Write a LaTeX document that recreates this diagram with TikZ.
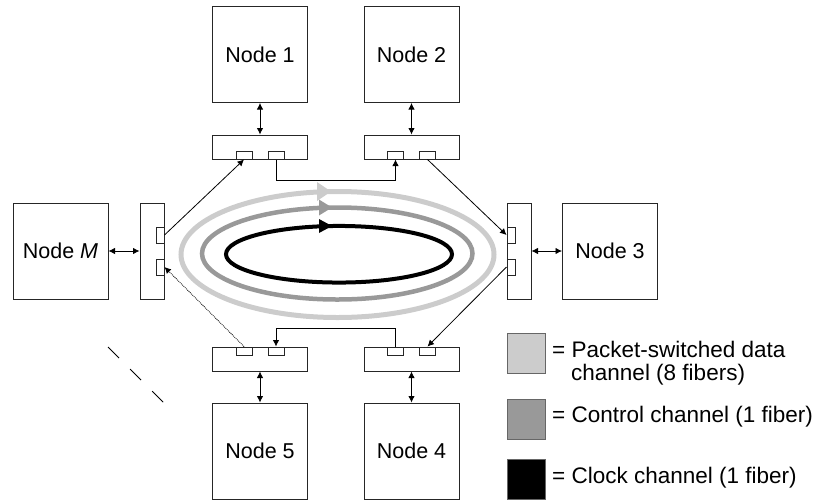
\documentclass[tikz,border=0pt]{standalone}
\usepackage{fontspec}
\setmainfont{Liberation Sans}
\usetikzlibrary{arrows.meta}
\definecolor{datagray}{HTML}{CCCCCC}
\definecolor{ctrlgray}{HTML}{999999}
\begin{document}
\begin{tikzpicture}[x=1pt, y=-1pt, font=\fontsize{21.5}{26}\selectfont, every node/.style={inner sep=0pt}, host/.style={draw=black!85, line width=1pt, minimum width=95pt, minimum height=96pt}, hcoupler/.style={draw=black!85, line width=1pt, minimum width=95pt, minimum height=24pt}, vcoupler/.style={draw=black!85, line width=1pt, minimum width=24pt, minimum height=96pt}, hport/.style={draw=black!85, line width=0.8pt, fill=white, minimum width=16pt, minimum height=8pt}, vport/.style={draw=black!85, line width=0.8pt, fill=white, minimum width=8pt, minimum height=16pt}, link/.style={line width=0.8pt, -{Latex[length=6.5pt,width=6.5pt]}}, dlink/.style={line width=0.8pt, {Latex[length=6.5pt,width=6.5pt]}-{Latex[length=6.5pt,width=6.5pt]}}, legendbox/.style={draw=black!60, line width=1pt, minimum width=38pt, minimum height=40pt}, legendtext/.style={anchor=base west, font=\fontsize{22.5}{27}\selectfont}]
\useasboundingbox (0,0) rectangle (819,499);

\draw[datagray, line width=5pt] (337.5,254.5) ellipse [x radius=156.5pt, y radius=63pt];
\draw[ctrlgray, line width=4.5pt] (337.25,253.5) ellipse [x radius=135.25pt, y radius=46pt];
\draw[black, line width=4pt] (339,254.25) ellipse [x radius=113pt, y radius=28.3pt];
\fill[datagray] (317,182) -- (331,191.5) -- (317,201) -- cycle;
\fill[ctrlgray] (319,199.5) -- (332,207.5) -- (319,215.5) -- cycle;
\fill[black] (319,219) -- (332,226) -- (319,233) -- cycle;

\node[host] (n1) at (260,54.5) {Node 1};
\node[host] (n2) at (411.5,54.5) {Node 2};
\node[host] (n3) at (610,251) {Node 3};
\node[host] (nM) at (60.5,251) {Node \textit{M}};
\node[host] (n4) at (411.5,451) {Node 4};
\node[host] (n5) at (260,451) {Node 5};

\node[hcoupler] (c1) at (260,147) {};
\node[hcoupler] (c2) at (411.5,147) {};
\node[hcoupler] (c4) at (411.5,359) {};
\node[hcoupler] (c5) at (260,359) {};
\node[vcoupler] (cM) at (152,251) {};
\node[vcoupler] (c3) at (519,251) {};

\node[hport, anchor=south] (p1a) at ([xshift=-16pt]c1.south) {};
\node[hport, anchor=south] (p1b) at ([xshift=16pt]c1.south) {};
\node[hport, anchor=south] (p2a) at ([xshift=-16pt]c2.south) {};
\node[hport, anchor=south] (p2b) at ([xshift=16pt]c2.south) {};
\node[hport, anchor=north] (p5a) at ([xshift=-16pt]c5.north) {};
\node[hport, anchor=north] (p5b) at ([xshift=16pt]c5.north) {};
\node[hport, anchor=north] (p4a) at ([xshift=-16pt]c4.north) {};
\node[hport, anchor=north] (p4b) at ([xshift=16pt]c4.north) {};
\node[vport, anchor=east] (pMa) at ([yshift=16pt]cM.east) {};
\node[vport, anchor=east] (pMb) at ([yshift=-16pt]cM.east) {};
\node[vport, anchor=west] (p3a) at ([yshift=16pt]c3.west) {};
\node[vport, anchor=west] (p3b) at ([yshift=-16pt]c3.west) {};

\draw[dlink] (n1) -- (c1);
\draw[dlink] (n2) -- (c2);
\draw[dlink] (nM) -- (cM);
\draw[dlink] (c3) -- (n3);
\draw[dlink] (c4) -- (n4);
\draw[dlink] (c5) -- (n5);

\draw[link] (p1b.south) -- ++(0,21) -| (p2a.south);
\draw[link] (p4a.north) -- ++(0,-18) -| (p5b.north);
\draw[link] (pMa.east) -- (p1a.south);
\draw[link] (p2b.south) -- (p3a.west);
\draw[link] (p3b.west) -- (p4b.north);
\draw[link, densely dotted] (p5a.north) -- (pMb.east);

\coordinate (e1) at (108,347);
\coordinate (e2) at (164,403);
\draw[line width=0.8pt, dash pattern=on 15.6pt off 15.6pt] (e1) -- (e2);

\node[legendbox, fill=datagray, anchor=north west] (l1) at (507,333) {};
\node[legendbox, fill=ctrlgray, anchor=north west] (l2) at (507,399) {};
\node[legendbox, fill=black, anchor=north west] (l3) at (507,459) {};
\node[legendtext] (t1) at (552,357) {= Packet-switched data};
\node[legendtext] (t1b) at (571,380) {channel (8 fibers)};
\node[legendtext] (t2) at (552,422) {= Control channel (1 fiber)};
\node[legendtext] (t3) at (552,483) {= Clock channel (1 fiber)};
\end{tikzpicture}
\end{document}
